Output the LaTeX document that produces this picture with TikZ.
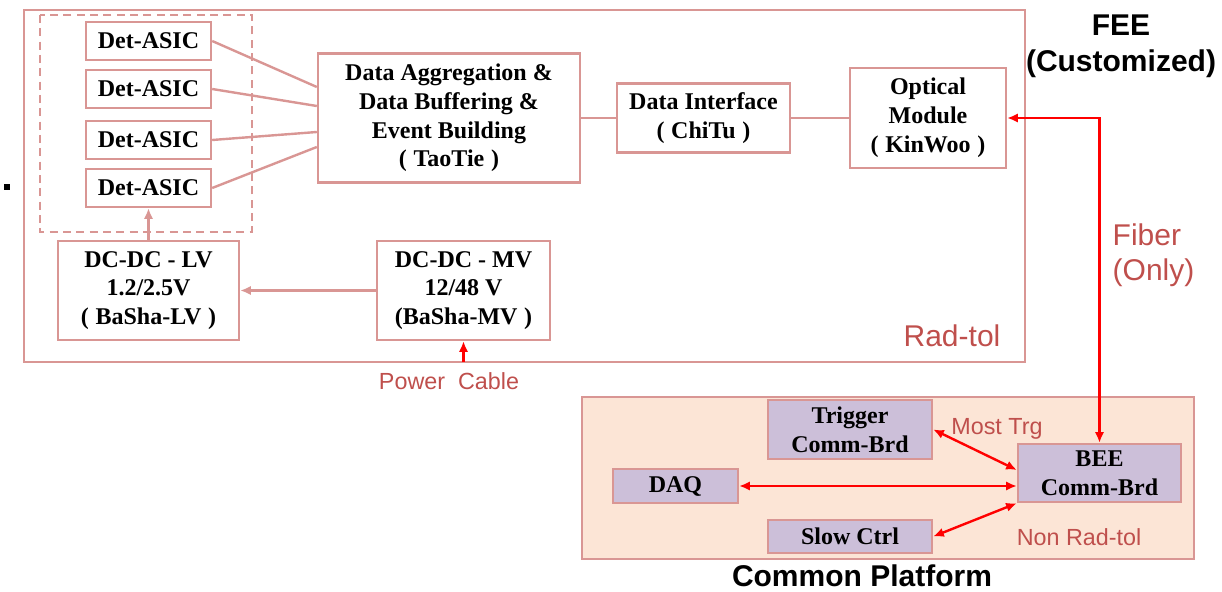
\documentclass[tikz,border=0pt]{standalone}
\usepackage{fontspec}
\setmainfont{Liberation Serif}
\setsansfont{Liberation Sans}
\usetikzlibrary{arrows.meta,calc}
\definecolor{LineClr}{rgb}{0.85,0.59,0.58}
\definecolor{TagClr}{rgb}{0.75,0.31,0.30}
\definecolor{PlatClr}{rgb}{0.99,0.90,0.84}
\definecolor{BoardClr}{rgb}{0.80,0.75,0.85}

\begin{document}
\begin{tikzpicture}[x=0.75pt,y=-0.75pt,
  blk/.style={draw=LineClr,line width=1.8pt,fill=white,inner sep=0pt,align=center,
    font=\fontsize{18}{21.6}\selectfont\bfseries},
  brd/.style={blk,fill=BoardClr},
  sz/.style 2 args={minimum width=#1*0.75pt,minimum height=#2*0.75pt},
  link/.style={draw=LineClr,line width=1.8pt},
  fib/.style={draw=red,line width=1.8pt},
  tip/.style={-{Latex[length=8pt,width=7pt]}},
  both/.style={{Latex[length=8pt,width=7pt]}-{Latex[length=8pt,width=7pt]}},
  tag/.style={text=TagClr,font=\fontsize{22.5}{26.25}\selectfont\sffamily},
  smalltag/.style={text=TagClr,font=\fontsize{17.5}{21}\selectfont\sffamily},
  title/.style={align=center,font=\fontsize{22.5}{27}\selectfont\sffamily\bfseries}]
\useasboundingbox (0,0) rectangle (1222,592);

% frames
\draw[link] (24,10) rectangle (1025,362);
\draw[link,dashed,dash pattern=on 6pt off 4pt] (40,15) rectangle (252,232);
\draw[link,fill=PlatClr] (582,397) rectangle (1194,559);
\fill (4,184) rectangle (10,190);

% FEE
\foreach \i/\y in {1/41,2/89,3/140,4/188}
  \node[blk,sz={125}{38}] (Det\i) at (148.5,\y) {Det-ASIC};
\node[blk,sz={262}{129}] (Agg) at (449,118)
  {Data Aggregation \&\\Data Buffering \&\\Event Building\\(\;TaoTie\;)};
\node[blk,sz={173}{69}] (ChiTu) at (703.5,118) {Data Interface\\(\;ChiTu\;)};
\node[blk,sz={156}{100}] (KinWoo) at (928,118) {Optical\\Module\\(\;KinWoo\;)};
\node[blk,sz={181}{99}] (LV) at (148.5,290.5) {DC-DC - LV\\1.2/2.5V\\(\;BaSha-LV\;)};
\node[blk,sz={173}{99}] (MV) at (463.5,290.5) {DC-DC - MV\\12/48 V\\(BaSha-MV\;)};
\coordinate (Pwr) at (463.5,362);

% Common platform
\node[brd,sz={164}{59}] (Trg) at (850,429.5) {Trigger\\Comm-Brd};
\node[brd,sz={125}{34}] (DAQ) at (675.5,486) {DAQ};
\node[brd,sz={164}{33}] (Slow) at (850,536.5) {Slow Ctrl};
\node[brd,sz={163}{58}] (BEE) at (1099.5,473) {BEE\\Comm-Brd};

% links
\foreach \i/\dy in {1/-31,2/-12,3/14,4/29}
  \draw[link] (Det\i.east) -- ($(Agg.west)+(0,\dy)$);
\draw[link] (Agg) -- (ChiTu) -- (KinWoo);
\draw[link,tip] (LV.north) -- (Det4.south);
\draw[link,tip] (MV.west) -- (LV.east);
\draw[fib,tip] (Pwr) -- (MV.south);
\draw[fib,both] (KinWoo.east) -| (BEE.north);
\draw[fib,both] (Trg.east) -- ($(BEE.west)+(0,-3)$);
\draw[fib,both] (DAQ.east) -- (BEE.west |- DAQ.east);
\draw[fib,both] (Slow.east) -- (BEE.south west);

% labels
\node[title] (FEE) at (1121,46) {FEE\\(Customized)};
\node[title] (CP) at (862,576) {Common Platform};
\node[tag,anchor=west,align=left] (Fiber) at (1108,255) {Fiber\\(Only)};
\node[tag] (Rad) at (952,336) {Rad-tol};
\node[smalltag] (Cable) at (449,381) {Power\ \ Cable};
\node[smalltag] (Most) at (997,429) {Most Trg};
\node[smalltag] (NonRad) at (1079,537) {Non Rad-tol};
\end{tikzpicture}
\end{document}
